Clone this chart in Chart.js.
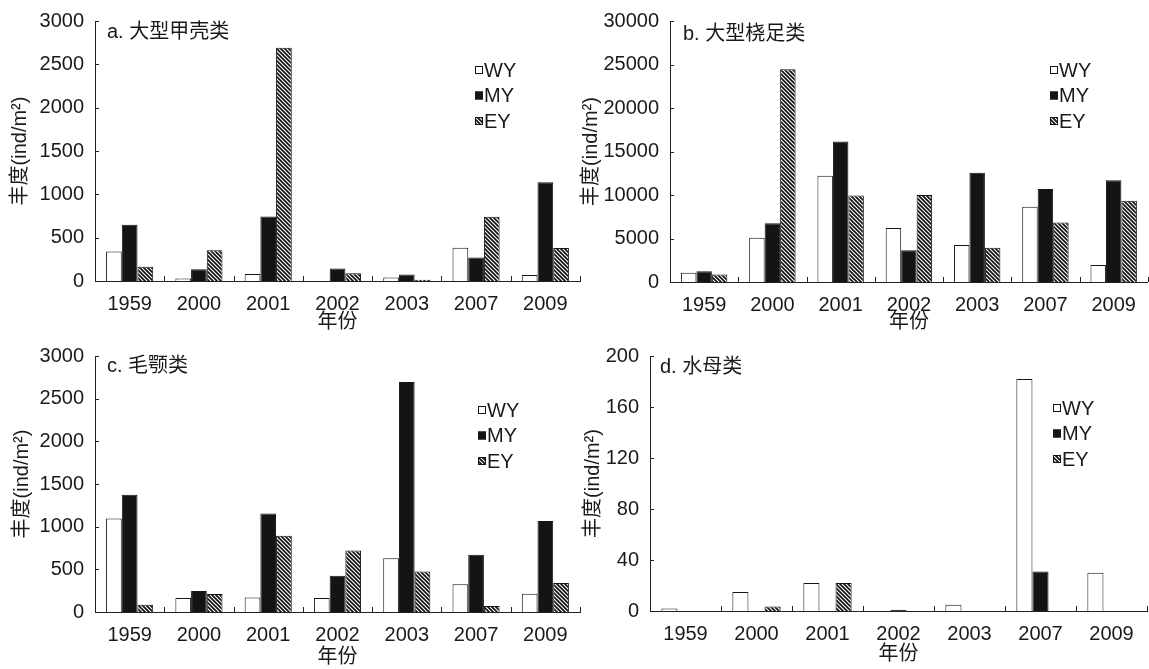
<!DOCTYPE html>
<html>
<head>
<meta charset="utf-8">
<script src="https://cdn.jsdelivr.net/npm/chart.js@4.4.1/dist/chart.umd.min.js"></script>
<style>
  html, body { margin: 0; padding: 0; background: #fff; }
  #wrap { position: relative; width: 1149px; height: 669px; overflow: hidden; }
  .panel { position: absolute; }
</style>
</head>
<body>
<div id="wrap">
  <div class="panel" style="left:0;top:0;width:585px;height:335px"><canvas id="chartA"></canvas></div>
  <div class="panel" style="left:575px;top:0;width:574px;height:335px"><canvas id="chartB"></canvas></div>
  <div class="panel" style="left:0;top:335px;width:585px;height:334px"><canvas id="chartC"></canvas></div>
  <div class="panel" style="left:575px;top:335px;width:574px;height:334px"><canvas id="chartD"></canvas></div>
</div>
<script>
var years = ['1959', '2000', '2001', '2002', '2003', '2007', '2009'];
var seriesNames = ['WY', 'MY', 'EY'];

// a. 大型甲壳类
var crustWY = [340, 30, 80, 0, 40, 385, 70];
var crustMY = [650, 135, 745, 145, 75, 270, 1140];
var crustEY = [165, 355, 2690, 90, 15, 740, 380];

// b. 大型桡足类
var copeWY = [1050, 5100, 12200, 6200, 4250, 8650, 1950];
var copeMY = [1250, 6750, 16150, 3650, 12550, 10700, 11700];
var copeEY = [850, 24450, 9950, 10000, 3950, 6850, 9350];

// c. 毛颚类
var chaeWY = [1095, 165, 170, 165, 630, 325, 215];
var chaeMY = [1375, 245, 1155, 425, 2695, 670, 1065];
var chaeEY = [85, 210, 895, 720, 475, 70, 340];

// d. 水母类
var medWY = [2, 15, 22, 0, 5, 182, 30];
var medMY = [0, 0, 0, 1, 0, 31, 0];
var medEY = [0, 3.5, 22, 0, 0, 0, 0];

var FONT = '"Liberation Sans", Arial, "Noto Sans CJK SC", sans-serif';
var INK = '#1a1a1a';

function makeHatch() {
  var c = document.createElement('canvas');
  c.width = 4; c.height = 4;
  var g = c.getContext('2d');
  g.fillStyle = '#fff';
  g.fillRect(0, 0, 4, 4);
  g.strokeStyle = '#111';
  g.lineWidth = 1.7;
  g.beginPath();
  g.moveTo(-1, -1); g.lineTo(5, 5);
  g.moveTo(-1, 3); g.lineTo(1, 5);
  g.moveTo(3, -1); g.lineTo(5, 1);
  g.stroke();
  return g.createPattern(c, 'repeat');
}
var hatch = makeHatch();

// draws panel label, legend, axis titles and the inward tick marks
var decorPlugin = {
  id: 'decor',
  afterDraw: function (chart) {
    var s = chart.options.plugins.decor;
    var ctx = chart.ctx;
    var area = chart.chartArea;
    var xs = chart.scales.x, ys = chart.scales.y;
    ctx.save();

    ctx.strokeStyle = '#222';
    ctx.lineWidth = 1;
    ys.ticks.forEach(function (t) {
      var y = Math.round(ys.getPixelForValue(t.value)) + 0.5;
      ctx.beginPath();
      ctx.moveTo(area.left, y);
      ctx.lineTo(area.left + 4, y);
      ctx.stroke();
    });
    for (var i = 0; i <= years.length; i++) {
      var x = Math.round(xs.getPixelForValue(i - 0.5)) + 0.5;
      ctx.beginPath();
      ctx.moveTo(x, area.bottom);
      ctx.lineTo(x, area.bottom - 5);
      ctx.stroke();
    }

    ctx.fillStyle = INK;
    ctx.font = '20px ' + FONT;
    ctx.textBaseline = 'middle';
    ctx.textAlign = 'left';
    ctx.fillText(s.label, area.left + s.labelDx, area.top + s.labelDy);

    // legend
    chart.data.datasets.forEach(function (ds, k) {
      var ly = s.legendY + k * 25.5;
      ctx.fillStyle = ds.backgroundColor;
      ctx.fillRect(s.legendX, ly - 4, 8, 8);
      ctx.strokeStyle = '#151515';
      ctx.strokeRect(s.legendX + 0.5, ly - 3.5, 7, 7);
      ctx.fillStyle = INK;
      ctx.font = '20px ' + FONT;
      ctx.fillText(ds.label, s.legendX + 9, ly + 1);
    });

    // axis titles
    ctx.font = '20px ' + FONT;
    ctx.textAlign = 'center';
    ctx.fillText('年份', (area.left + area.right) / 2, s.xTitleY);
    ctx.translate(s.yTitleX, (area.top + area.bottom) / 2 + s.yTitleDy);
    ctx.rotate(-Math.PI / 2);
    ctx.fillText('丰度(ind/m²)', 0, 0);
    ctx.restore();
  }
};

function makeChart(id, label, wy, my, ey, yMax, yStep, st) {
  var canvas = document.getElementById(id);
  var box = canvas.parentNode.getBoundingClientRect();
  var area = {
    left: st.left - box.left, right: st.right - box.left,
    top: st.top - box.top, bottom: st.bottom - box.top
  };
  return new Chart(canvas, {
    type: 'bar',
    data: {
      labels: years,
      datasets: [
        { label: seriesNames[0], data: wy, backgroundColor: '#ffffff' },
        { label: seriesNames[1], data: my, backgroundColor: '#141414' },
        { label: seriesNames[2], data: ey, backgroundColor: hatch }
      ]
    },
    options: {
      responsive: true,
      maintainAspectRatio: false,
      animation: false,
      devicePixelRatio: 1,
      layout: {
        padding: { left: 0, top: area.top, right: box.width - area.right, bottom: 0 }
      },
      datasets: {
        bar: {
          borderColor: '#151515',
          borderWidth: 1,
          barPercentage: 1,
          categoryPercentage: 0.68
        }
      },
      plugins: {
        legend: { display: false },
        tooltip: { enabled: false },
        decor: {
          label: label,
          labelDx: st.labelDx, labelDy: st.labelDy,
          legendX: st.legendX - box.left, legendY: st.legendY - box.top,
          xTitleY: st.xTitleY - box.top,
          yTitleX: st.yTitleX - box.left, yTitleDy: st.yTitleDy
        }
      },
      scales: {
        x: {
          grid: { display: false, drawTicks: false },
          border: { display: true, color: '#222', width: 1 },
          ticks: { color: INK, padding: 13, font: { family: FONT, size: 20, lineHeight: 1 }, maxRotation: 0 },
          afterFit: function (scale) { scale.height = box.height - area.bottom; }
        },
        y: {
          min: 0,
          max: yMax,
          grid: { display: false, drawTicks: false },
          border: { display: true, color: '#222', width: 1 },
          ticks: {
            stepSize: yStep,
            color: INK,
            padding: 11,
            font: { family: FONT, size: 20, lineHeight: 1 },
            callback: function (v) { return String(v); }
          },
          afterFit: function (scale) { scale.width = area.left; }
        }
      }
    },
    plugins: [decorPlugin]
  });
}

makeChart('chartA', 'a. 大型甲壳类', crustWY, crustMY, crustEY, 3000, 500,
  { left: 95, right: 580, top: 14, bottom: 281, labelDx: 12, labelDy: 11,
    legendX: 475, legendY: 70, xTitleY: 322, yTitleX: 20, yTitleDy: 0 });
makeChart('chartB', 'b. 大型桡足类', copeWY, copeMY, copeEY, 30000, 5000,
  { left: 670, right: 1148, top: 15, bottom: 282, labelDx: 13, labelDy: 13,
    legendX: 1050, legendY: 70, xTitleY: 322, yTitleX: 591, yTitleDy: 0 });
makeChart('chartC', 'c. 毛颚类', chaeWY, chaeMY, chaeEY, 3000, 500,
  { left: 95, right: 580, top: 347, bottom: 612, labelDx: 12, labelDy: 10,
    legendX: 478, legendY: 410, xTitleY: 657, yTitleX: 22, yTitleDy: 0 });
makeChart('chartD', 'd. 水母类', medWY, medMY, medEY, 200, 40,
  { left: 650, right: 1147, top: 347, bottom: 611, labelDx: 10, labelDy: 11,
    legendX: 1053, legendY: 408, xTitleY: 654, yTitleX: 593, yTitleDy: 0 });
</script>
</body>
</html>
